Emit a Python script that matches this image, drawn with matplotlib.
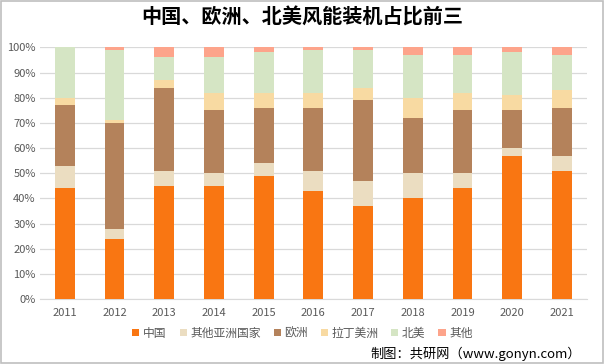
import matplotlib
matplotlib.use("Agg")
import matplotlib.pyplot as plt
from matplotlib.patches import Rectangle
import numpy as np

plt.rcParams['font.family'] = ['Noto Sans CJK SC', 'DejaVu Sans']

years = ["2011", "2012", "2013", "2014", "2015", "2016", "2017", "2018", "2019", "2020", "2021"]
china = [44, 24, 45, 45, 49, 43, 37, 40, 44, 57, 51]
other_asia = [9, 4, 6, 5, 5, 8, 10, 10, 6, 3, 6]
europe = [24, 42, 33, 25, 22, 25, 32, 22, 25, 15, 19]
latin = [3, 1, 3, 7, 6, 6, 5, 8, 7, 6, 7]
north_am = [20, 28, 9, 14, 16, 17, 15, 17, 15, 17, 14]
others = [0, 1, 4, 4, 2, 1, 1, 3, 3, 2, 3]

series = [("中国", china, "#F97612"),
          ("其他亚洲国家", other_asia, "#EBDDC1"),
          ("欧洲", europe, "#B4825B"),
          ("拉丁美洲", latin, "#F8DAA2"),
          ("北美", north_am, "#D5E5C4"),
          ("其他", others, "#FDA48B")]

fig = plt.figure(figsize=(6.05, 3.64), dpi=100)
ax = fig.add_axes([0.066, 0.178, 0.904, 0.692])

x = np.arange(len(years))
bottom = np.zeros(len(years))
handles = []
for name, vals, col in series:
    v = np.array(vals, dtype=float)
    b = ax.bar(x, v, bottom=bottom, width=0.4, color=col, label=name, zorder=3)
    handles.append(b)
    bottom += v

ax.set_ylim(0, 100)
ax.set_xlim(-0.5, len(years) - 0.5)
ax.set_yticks(np.arange(0, 101, 10))
ax.set_yticklabels([f"{v}%" for v in range(0, 101, 10)])
ax.set_xticks(x)
ax.set_xticklabels(years)
ax.tick_params(axis='both', length=0, labelsize=8, colors="#595959")
ax.tick_params(axis='x', pad=6)
ax.tick_params(axis='y', pad=3)
ax.grid(axis='y', color="#D9D9D9", linewidth=0.9, zorder=0)
for s in ["top", "right", "left"]:
    ax.spines[s].set_visible(False)
ax.spines["bottom"].set_color("#D9D9D9")

fig.text(0.5, 0.952, "中国、欧洲、北美风能装机占比前三", ha="center", va="center",
         fontsize=14.5, fontweight="bold", color="#000000")

leg = fig.legend(handles=handles, labels=[s[0] for s in series], loc="center",
                 bbox_to_anchor=(0.5, 0.085), ncol=6, frameon=False, fontsize=8.5,
                 handlelength=0.6, handleheight=0.6, handletextpad=0.3, columnspacing=1.1,
                 labelcolor="#595959")

fig.text(0.96, 0.028, "制图：共研网（www.gonyn.com）", ha="right", va="center",
         fontsize=9.5, color="#000000")

fig.patches.append(Rectangle((0.002, 0.003), 0.995, 0.994, transform=fig.transFigure,
                             fill=False, edgecolor="#BFBFBF", linewidth=1.2))

fig.savefig("out.png", dpi=100)
